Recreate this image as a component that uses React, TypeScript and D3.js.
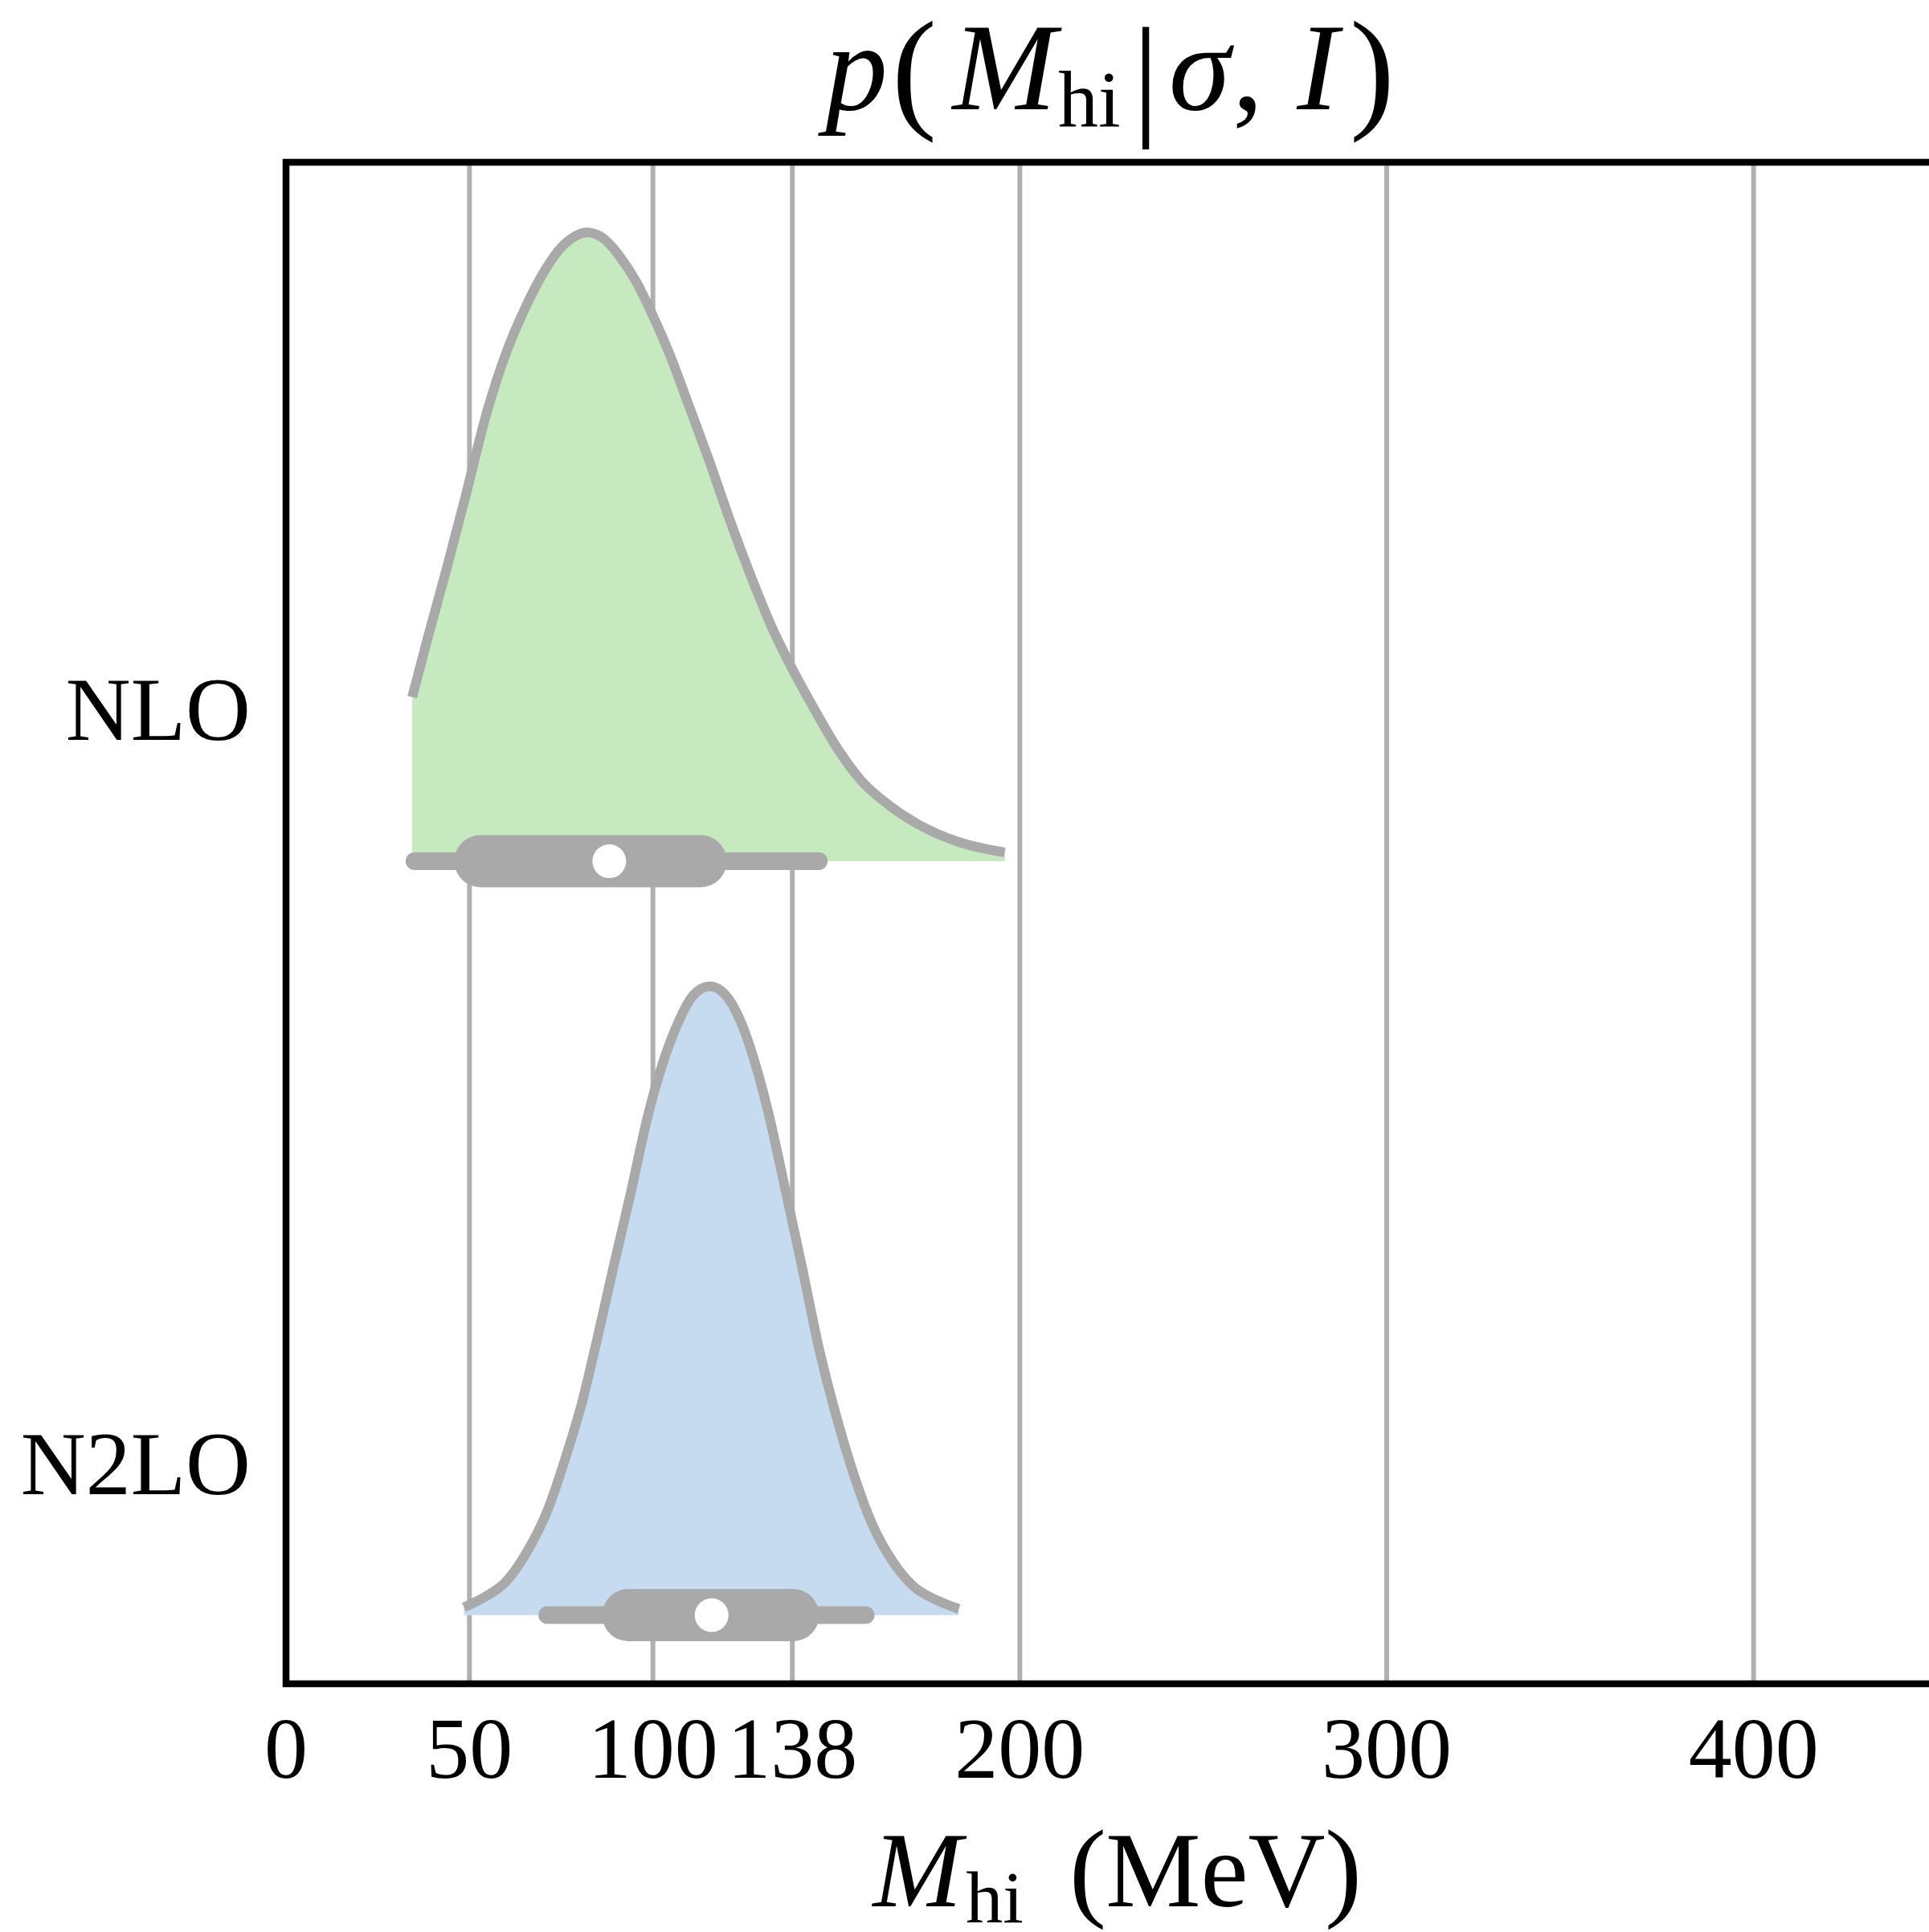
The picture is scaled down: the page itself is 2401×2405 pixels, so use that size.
import React from "react";
import * as d3 from "d3";

const categories = ["NLO", "N2LO"];
const xTicks = [0, 50, 100, 138, 200, 300, 400];
const gridTicks = [50, 100, 138, 200, 300, 400];

const nloMass = [34.4, 38.3, 43.9, 49.0, 54.5, 60.1, 65.2, 69.6, 74.1, 78.0, 81.9, 86.4, 90.8, 95.3, 99.8, 104.3, 109.9, 115.4, 121.0, 126.6, 132.2, 137.8, 143.4, 150.1, 156.8, 164.6, 172.5, 183.6, 195.9];
const nloDensity = [0.261, 0.348, 0.468, 0.582, 0.709, 0.81, 0.88, 0.93, 0.97, 0.991, 1.0, 0.991, 0.963, 0.923, 0.87, 0.81, 0.723, 0.636, 0.542, 0.455, 0.375, 0.308, 0.248, 0.181, 0.128, 0.088, 0.058, 0.03, 0.014];

const n2loMass = [48.5, 54.2, 59.9, 65.6, 71.3, 76.0, 80.8, 84.6, 89.3, 94.1, 98.4, 102.6, 106.4, 111.2, 115.5, 119.7, 124.5, 128.3, 131.6, 135.9, 140.6, 145.4, 150.1, 154.9, 159.6, 165.3, 171.0, 177.7, 183.4];
const n2loDensity = [0.0125, 0.029, 0.053, 0.1, 0.167, 0.247, 0.341, 0.434, 0.555, 0.675, 0.789, 0.876, 0.936, 0.987, 1.0, 0.987, 0.936, 0.869, 0.796, 0.682, 0.555, 0.421, 0.314, 0.221, 0.147, 0.086, 0.046, 0.023, 0.01];

const whiskerLo = [35.0, 71.2];
const whiskerHi = [145.2, 158.0];
const boxLo = [53.0, 93.3];
const boxHi = [113.0, 138.2];
const medians = [88.1, 116.0];

const fills = ["#c7e9c0", "#c6dbef"];
const gray = "#a9a9a9";
const gridColor = "#b0b0b0";

const W = 2401;
const H = 2405;
const left = 356;
const right = 2411;
const top = 202;
const bottom = 2096;

export default function App() {
  const x = d3.scaleLinear().domain([0, 450]).range([left, right]);
  const y = d3.scaleLinear().domain([-0.727, 1.291]).range([top, bottom]);
  const offset = 0.2;
  const peak = 0.834;

  const series = [
    { mass: nloMass, dens: nloDensity },
    { mass: n2loMass, dens: n2loDensity },
  ];

  const font = "'Liberation Serif', 'Times New Roman', serif";

  return (
    <svg
      width={W}
      height={H}
      viewBox={`0 0 ${W} ${H}`}
      style={{ position: "absolute", left: 0, top: 0, background: "#fff" }}
      fontFamily={font}
    >
      <rect x={0} y={0} width={W} height={H} fill="#fff" />
      {gridTicks.map((t) => (
        <line key={t} x1={x(t)} x2={x(t)} y1={top} y2={bottom} stroke={gridColor} strokeWidth={6} />
      ))}
      {series.map((s, i) => {
        const base = y(i + offset);
        const pts = s.mass.map((m, k) => [m, s.dens[k]] as [number, number]);
        const area = d3
          .area<[number, number]>()
          .x((d) => x(d[0]))
          .y0(base)
          .y1((d) => y(i + offset - d[1] * peak))
          .curve(d3.curveMonotoneX);
        const line = d3
          .line<[number, number]>()
          .x((d) => x(d[0]))
          .y((d) => y(i + offset - d[1] * peak))
          .curve(d3.curveMonotoneX);
        return (
          <g key={categories[i]}>
            <path d={area(pts) || ""} fill={fills[i]} stroke="none" />
            <path d={line(pts) || ""} fill="none" stroke={gray} strokeWidth={12} strokeLinecap="butt" strokeLinejoin="round" />
            <line x1={x(whiskerLo[i])} x2={x(whiskerHi[i])} y1={base} y2={base} stroke={gray} strokeWidth={22} strokeLinecap="round" />
            <line x1={x(boxLo[i])} x2={x(boxHi[i])} y1={base} y2={base} stroke={gray} strokeWidth={65} strokeLinecap="round" />
            <circle cx={x(medians[i])} cy={base} r={21} fill="#fff" />
          </g>
        );
      })}
      <rect x={left} y={top} width={right - left} height={bottom - top} fill="none" stroke="#000" strokeWidth={8.5} />
      {categories.map((c, i) => (
        <text key={c} x={312} y={y(i) + 37} fontSize={112} textAnchor="end" fill="#000">
          {c}
        </text>
      ))}
      {xTicks.map((t) => (
        <text key={t} x={x(t)} y={2213} fontSize={108} textAnchor="middle" fill="#000">
          {t}
        </text>
      ))}
      <g fill="#000">
        <text x={1142} y={2373} fontSize={133} fontStyle="italic" textAnchor="middle">M</text>
        <text x={1238} y={2393} fontSize={92} textAnchor="middle">hi</text>
        <text x={1354} y={2373} fontSize={138} textAnchor="middle">(</text>
        <text x={1513} y={2373} fontSize={133} textAnchor="middle">MeV</text>
        <text x={1672} y={2373} fontSize={138} textAnchor="middle">)</text>
      </g>
      <g fill="#000">
        <text x={1066} y={136} fontSize={155} fontStyle="italic" textAnchor="middle">p</text>
        <text x={1138} y={142} fontSize={168} textAnchor="middle">(</text>
        <text x={1250} y={136} fontSize={155} fontStyle="italic" textAnchor="middle">M</text>
        <text x={1356} y={157} fontSize={100} textAnchor="middle">hi</text>
        <text x={1426} y={150} fontSize={168} textAnchor="middle">|</text>
        <text x={1493} y={136} fontSize={155} fontStyle="italic" textAnchor="middle">σ</text>
        <text x={1553} y={136} fontSize={155} textAnchor="middle">,</text>
        <text x={1640} y={136} fontSize={155} fontStyle="italic" textAnchor="middle">I</text>
        <text x={1708} y={142} fontSize={168} textAnchor="middle">)</text>
      </g>
    </svg>
  );
}
